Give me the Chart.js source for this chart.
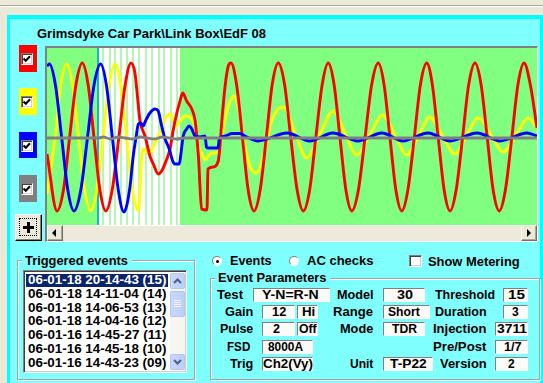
<!DOCTYPE html>
<html><head><meta charset="utf-8">
<script src="https://cdn.jsdelivr.net/npm/chart.js@4.4.0/dist/chart.umd.min.js"></script>
<style>
html,body{margin:0;padding:0}
body{width:543px;height:383px;overflow:hidden;background:#ECE9D8;position:relative;font-family:"Liberation Sans",Arial,sans-serif;font-weight:bold;font-size:13px;color:#000}
.a{position:absolute;box-sizing:border-box}
.t{position:absolute;white-space:nowrap;line-height:16px;height:16px;transform-origin:0 50%;z-index:5}
.cb{position:absolute;width:12px;height:12px;box-sizing:border-box;background:#fff;border-top:1px solid #808080;border-left:1px solid #808080;border-right:1px solid #fff;border-bottom:1px solid #fff;box-shadow:inset 1px 1px 0 #404040,inset -1px -1px 0 #D4D0C8}
.box{position:absolute;box-sizing:border-box;background:#FAFAF6;border-top:1px solid #808080;border-left:1px solid #808080;border-right:1px solid #fff;border-bottom:1px solid #fff;height:14px}
.grp{position:absolute;box-sizing:border-box;border:1px solid #9AA8A8;box-shadow:1px 1px 0 #fff,inset 1px 1px 0 #fff}
.btn{position:absolute;box-sizing:border-box;background:#ECE9D8;border-top:1px solid #fff;border-left:1px solid #fff;border-right:1px solid #716F64;border-bottom:1px solid #716F64;box-shadow:inset -1px -1px 0 #ACA899}
.xp{position:absolute;box-sizing:border-box;background:linear-gradient(90deg,#C9D8FC,#BCCEF8);border:1px solid #B2C6F2;border-radius:2px}
</style></head>
<body>
<div class="a" style="left:0;top:5px;width:543px;height:1px;background:#ACA899"></div>
<div class="a" style="left:0;top:6px;width:543px;height:1px;background:#fff"></div>
<div class="a" style="left:7px;top:15px;width:536px;height:380px;background:#80FFFF;border:3px solid #00FFFF;border-top-width:4px"></div>

<!-- channel checkboxes -->
<div class="a" style="left:19px;top:45px;width:18px;height:27px;background:#FF0000"></div>
<div class="a" style="left:19px;top:88px;width:18px;height:27px;background:#FFFF00"></div>
<div class="a" style="left:19px;top:132px;width:18px;height:26px;background:#0000FF"></div>
<div class="a" style="left:19px;top:175px;width:18px;height:27px;background:#808080"></div>

<!-- plus button -->
<div class="a" style="left:15px;top:214px;width:27px;height:27px;background:#ECE9D8;border-top:1px solid #fff;border-left:1px solid #fff;border-right:1px solid #000;border-bottom:1px solid #000;box-shadow:inset -1px -1px 0 #808080"></div>
<div class="a" style="left:19px;top:218px;width:18px;height:18px;border:1px dotted #000"></div>
<div class="a" style="left:23px;top:226px;width:11px;height:3px;background:#000"></div>
<div class="a" style="left:27px;top:222px;width:3px;height:11px;background:#000"></div>

<!-- chart frame -->
<div class="a" style="left:45px;top:46px;width:493px;height:196px;border-top:2px solid #808080;border-left:2px solid #808080;border-right:1px solid #fff;border-bottom:1px solid #fff"></div>
<canvas id="c" width="490" height="177" style="position:absolute;left:47px;top:48px"></canvas>
<!-- horizontal scrollbar -->
<div class="a" style="left:47px;top:225px;width:490px;height:16px;background:#EDEADB;border-top:1px solid #fff"></div>
<div class="btn" style="left:47px;top:225px;width:16px;height:16px"></div>
<svg class="a" style="left:52px;top:229px" width="6" height="8"><path d="M4 0 L0 4 L4 8 Z" fill="#000"/></svg>
<div class="btn" style="left:521px;top:225px;width:16px;height:16px"></div>
<svg class="a" style="left:527px;top:229px" width="6" height="8"><path d="M0 0 L4 4 L0 8 Z" fill="#000"/></svg>

<!-- group boxes -->
<div class="grp" style="left:17px;top:260px;width:178px;height:120px"></div>
<div class="a" style="left:22px;top:254px;width:110px;height:12px;background:#80FFFF"></div>
<div class="grp" style="left:210px;top:278px;width:330px;height:102px"></div>
<div class="a" style="left:215px;top:272px;width:115px;height:12px;background:#80FFFF"></div>

<!-- listbox -->
<div class="a" style="left:23px;top:270px;width:164px;height:103px;background:#fff;border-top:1px solid #808080;border-left:1px solid #808080;border-right:1px solid #fff;border-bottom:1px solid #fff;box-shadow:inset 1px 1px 0 #404040,inset -1px -1px 0 #D4D0C8"></div>
<div class="a" style="left:26px;top:274px;width:142px;height:12.5px;background:#0A246A"></div>
<div class="a" style="left:170px;top:273px;width:15px;height:98px;background:#F6F5F0"></div>
<div class="xp" style="left:170px;top:273px;width:15px;height:16px"></div>
<svg class="a" style="left:173px;top:278px;z-index:6" width="9" height="6"><path d="M1 5 L4.5 1.5 L8 5" stroke="#4D6185" stroke-width="2" fill="none"/></svg>
<div class="xp" style="left:170px;top:291px;width:15px;height:26px"></div>
<div class="a" style="left:174px;top:300px;width:7px;height:1px;background:#EEF3FE;box-shadow:0 2px 0 #EEF3FE,0 4px 0 #EEF3FE,0 6px 0 #EEF3FE"></div>
<div class="xp" style="left:170px;top:354px;width:15px;height:16px"></div>
<svg class="a" style="left:173px;top:359px;z-index:6" width="9" height="6"><path d="M1 1 L4.5 4.5 L8 1" stroke="#4D6185" stroke-width="2" fill="none"/></svg>

<!-- radios / metering checkbox -->
<div class="a" style="left:212px;top:256px;width:10px;height:10px;border-radius:50%;background:#fff;border-top:1px solid #808080;border-left:1px solid #808080;border-right:1px solid #fff;border-bottom:1px solid #fff"></div>
<div class="a" style="left:215.5px;top:259.5px;width:3px;height:3px;border-radius:50%;background:#000"></div>
<div class="a" style="left:289px;top:256px;width:10px;height:10px;border-radius:50%;background:#fff;border-top:1px solid #808080;border-left:1px solid #808080;border-right:1px solid #fff;border-bottom:1px solid #fff"></div>
<div class="cb" style="left:409px;top:255px;width:13px;height:12px"></div>

<script>
// ---- data (time in ms, amplitude in display units) ----
const redT = [0,4.1,6.7,9.2,11.8,14.4,16.8,19.2,21.6,24.0,26.6,29.3,31.9,34.3,35.9,36.9,37.7,38.2,40.0,42.0,43.4,45.4,46.8,48.9,50.2,51.6,52.9,54.3,55.4,57.0,59.1,60.4,61.8,63.1,65.3,65.7,67.8,69.9,70.6,71.3,72.7,74.0,75.1,77.4,79.8,82.1,84.5,87.0,89.5,91.9,94.4,97.0,99.5,102.1,104.6,107.2,109.7,112.3,114.8,117.2,119.6,122.0,124.4,127.1,129.8,132.5,135.2,137.6,140.0,142.4,144.8,147.3,149.9,152.4,155.0,157.3,159.7,162.1,164.5,167.0,169.6,172.1,174.7,177.2,179.7,182.1,184.6,187.1,189.7,192.2,194.7,197.3,200];
const redV = [-16,-73,-52,0,53,75,53,0,-52,-73,-52,0,53,75,65,42,22,14,2,-18,-26,-36,-33,-21,-11,9,24,37,45,37,29,18,-18,-71,-72,-31,-29,-23,-8,15,52,72,75,53,0,-52,-73,-52,0,53,75,53,0,-52,-73,-52,0,53,75,53,0,-52,-73,-52,0,53,75,53,0,-52,-73,-52,0,53,75,53,0,-52,-73,-52,0,53,75,53,0,-52,-73,-52,0,53,75,53,10];

const yellowT = [0,3.3,5.6,8.0,10.5,12.9,15.4,17.8,20.3,22.8,25.3,27.8,30.1,32.5,34.9,37.3,38.2,38.8,39.3,40.7,42.0,43.4,44.8,46.1,47.5,48.9,50.5,51.6,52.9,54.3,55.6,57.0,59.1,60.4,61.8,63.1,64.5,65.8,67.2,69.3,70.2,71.3,72.7,74.0,75.4,76.5,77.8,79.2,80.5,82.2,83.8,85.2,86.9,88.3,89.7,91.0,96.5,101.2,106.0,111.4,116.9,121.6,126.4,131.8,137.0,142.0,146.8,151.6,156.3,161.4,166.5,171.2,176.0,181.2,186.2,191.4,196.4,200];
const yellowV = [-56,0,53,74,52,0,-52,-73,-52,0,52,74,52,0,-52,-73,-41,-15,-11,-14,-16,-8,-1,5,15,22,24,17,12,17,21,22,19,11,-8,-15,-22,-18,-15,-15,-11,2,19,32,40,42,34,15,-5,-23,-33,-35,-30,-18,-5,12,31,5,-20,4,27,5,-17,3,23,3,-17,2,21,2,-16,2,20,3,-14,3,20,10];

const blueT = [0,1.0,3.5,6.0,8.5,11.0,13.8,16.5,19.2,21.9,24.3,26.7,29.1,31.4,32.5,33.9,35.2,36.3,37.3,38.2,39.3,40.0,42.0,44.1,45.4,46.8,48.2,49.9,51.3,52.2,54.0,54.7,55.6,57.0,58.0,59.1,60.4,62.5,64.5,65.1,65.7,69.8,70.4,72.7,75.5,78.8,80.8,86.1,98.0,107.3,116.7,126.9,136.7,145.3,155.5,164.5,175.5,184.9,195.9,200];
const blueV = [72,74,52,0,-52,-73,-52,0,53,74,52,0,-52,-74,-68,-48,-18,0,14,15,12,16,25,29,27,12,-1,-11,-23,-26,-26,-15,2,9,12,9,2,1,2,-9,-10,-10,0,2,4.5,4.5,2,-3,5,-3,5,-3,5,-3,5,-3,5,-3,5,2];

const greyT = [0,21,23,26,29,32,35,38,41,44,47,50,53,56,200];
const greyV = [0,0,1,-1,1,0,-1,1,0,-1,1,0,-1,0,0];

// pre-trigger window (white band), trigger marker, sample marks (ms)
const triggerT = 20.9;
const bandStart = 21.3, bandEnd = 54.3;
const stripeT = [22.9,25.6,27.8,30.2,32.5,35.2,37.6,40.3,43.0,45.7,47.8,50.6,52.9];

const title = "Grimsdyke Car Park\\Link Box\\EdF 08";
const events = ["06-01-18 20-14-43 (15)","06-01-18 14-11-04 (14)","06-01-18 14-06-53 (13)","06-01-18 14-04-16 (12)","06-01-16 14-45-27 (11)","06-01-16 14-45-18 (10)","06-01-16 14-43-23 (09)"];

const pts = (T,V) => T.map((t,i)=>({x:t,y:V[i]}));

const bgPlugin = {
  id:'bg',
  beforeDatasetsDraw(chart){
    const {ctx, chartArea:a, scales:{x}} = chart;
    ctx.save();
    ctx.fillStyle='#80FF80';
    ctx.fillRect(a.left,a.top,a.right-a.left,a.bottom-a.top);
    const x0=x.getPixelForValue(bandStart), x1=x.getPixelForValue(bandEnd);
    ctx.fillStyle='#FFFFFF';
    ctx.fillRect(x0,a.top,x1-x0,a.bottom-a.top);
    ctx.fillStyle='#B4F6B4';
    stripeT.forEach(t=>{const p=Math.round(x.getPixelForValue(t));ctx.fillRect(p-1,a.top,2,a.bottom-a.top);});
    ctx.fillStyle='#18B4C8';
    const c=Math.round(x.getPixelForValue(triggerT));
    ctx.fillRect(c-1,a.top,2,a.bottom-a.top);
    ctx.restore();
  }
};

const ds = (T,V,col) => ({data:pts(T,V),borderColor:col,borderWidth:2.9,pointRadius:0,cubicInterpolationMode:'monotone',fill:false,borderJoinStyle:'round'});

new Chart(document.getElementById('c'),{
  type:'line',
  data:{datasets:[ds(greyT,greyV,'#808080'),ds(blueT,blueV,'#0000FF'),ds(redT,redV,'#FF0000'),ds(yellowT,yellowV,'#FFFF00')]},
  options:{
    responsive:false,animation:false,devicePixelRatio:1,
    layout:{padding:0},
    plugins:{legend:{display:false},tooltip:{enabled:false}},
    scales:{
      x:{type:'linear',min:0,max:200,display:false},
      y:{min:-87,max:90,display:false}
    }
  },
  plugins:[bgPlugin]
});

// ---- UI text ----
function T(text,x,cy,w,o){
  o=o||{};
  const s=document.createElement('span');
  s.className='t';s.textContent=text;
  s.style.left=x+'px';s.style.top=(cy-8)+'px';
  if(o.size)s.style.fontSize=o.size+'px';
  if(o.color)s.style.color=o.color;
  document.body.appendChild(s);
  const nw=s.getBoundingClientRect().width;
  s.style.transform='scaleX('+(w/nw)+')';
}
function CB(x,y){
  const d=document.createElement('div');d.className='cb';d.style.left=x+'px';d.style.top=y+'px';
  d.innerHTML='<svg width="10" height="10" style="position:absolute;left:0;top:0"><path d="M1.5 4.5 L3.8 6.8 L8 2.3" stroke="#000" stroke-width="2" fill="none"/></svg>';
  document.body.appendChild(d);
}
function BOX(x0,x1,cy){
  const d=document.createElement('div');d.className='box';
  d.style.left=x0+'px';d.style.top=(cy-7)+'px';d.style.width=(x1-x0)+'px';
  document.body.appendChild(d);
}
CB(21,53);CB(21,96);CB(21,139.5);CB(21,183);

T(title,37,34,229,{size:12.5});
T("Triggered events",25,260.5,103);
events.forEach((e,i)=>T(e,28.3,280+i*13.8,138.4,{color:i===0?'#fff':'#000'}));
T("Events",230,261,41.7);
T("AC checks",306.7,261,66.6);
T("Show Metering",428.3,261.5,91.7);
T("Event Parameters",218.3,277.5,108.4);

const R=[295,312,329,346.5,364];
[["Test",217,0,26],["Model",336.7,0,36.6],["Threshold",435,0,60],
 ["Gain",225,1,28.3],["Range",333.3,1,40],["Duration",435,1,51.7],
 ["Pulse",220,2,33.3],["Mode",340,2,33.3],["Injection",433.3,2,53.4],
 ["FSD",226.7,3,23.3],["Pre/Post",433.3,3,53.4],
 ["Trig",230,4,23.3],["Unit",350,4,23.3],["Version",440,4,46.7]].forEach(l=>T(l[0],l[1],R[l[2]],l[3]));

[[252.7,330,0,"Y-N=R-N",261.7,56.6],[382.7,425,0,"30",397.3,16],[503.3,528.3,0,"15",508,17],
 [261.7,295,1,"12",271.7,14.3],[296.7,318.3,1,"Hi",301.7,13.3],[382.7,430,1,"Short",388.3,31.7],[503.3,528.3,1,"3",511.7,6.7],
 [261.7,295,2,"2",273,7],[296.7,318.3,2,"Off",299,17.7],[382.7,425,2,"TDR",391.7,25],[495,528.3,2,"3711",496.7,30],
 [261.7,313.3,3,"8000A",268.3,35],[495,528.3,3,"1/7",504,17.7],
 [261.7,313.3,4,"Ch2(Vy)",262.7,50],[382.7,433.3,4,"T-P22",390,36.7],[495,528.3,4,"2",508.3,6.7]
].forEach(b=>{BOX(b[0],b[1],R[b[2]]);T(b[3],b[4],R[b[2]],b[5]);});
</script>
</body></html>
